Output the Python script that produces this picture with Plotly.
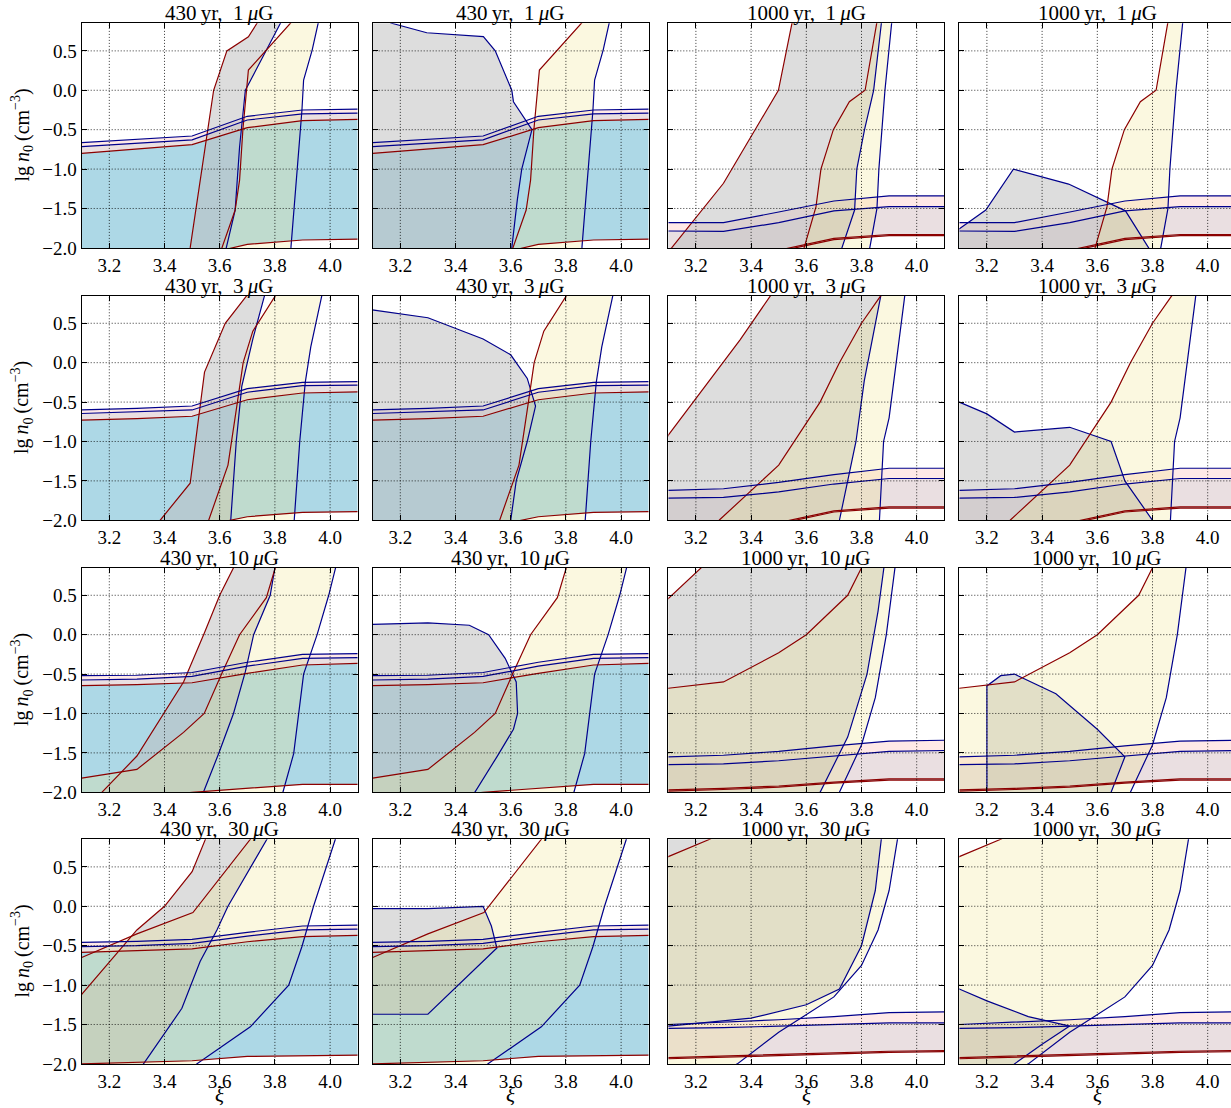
import plotly.graph_objects as go
from plotly.subplots import make_subplots

# ---------------- data ----------------
X_RANGE = [3.1, 4.1]
Y_RANGE = [-2.0, 0.85]
X_TICKS = [3.2, 3.4, 3.6, 3.8, 4.0]
Y_TICKS = [-2.0, -1.5, -1.0, -0.5, 0.0, 0.5]
COL_AGES = ["430", "430", "1000", "1000"]
ROW_FIELDS = ["1", "3", "10", "30"]

# horizontal bands (y as function of xi on HX grid)
HX = [3.1, 3.3, 3.5, 3.7, 3.9, 4.1]
H430_B1_BLUE_UP = [-0.665, -0.62, -0.58, -0.33, -0.25, -0.24]
H430_B1_BLUE_LO = [-0.716, -0.675, -0.63, -0.377, -0.30, -0.29]
H430_B1_RED_UP = [-0.80, -0.745, -0.69, -0.475, -0.386, -0.37]
H430_B1_RED_LO = [-2.35, -2.25, -2.12, -1.955, -1.90, -1.89]
H430_B3_BLUE_UP = [-0.60, -0.58, -0.55, -0.33, -0.25, -0.24]
H430_B3_BLUE_LO = [-0.645, -0.625, -0.60, -0.375, -0.29, -0.285]
H430_B3_RED_UP = [-0.73, -0.71, -0.68, -0.47, -0.385, -0.37]
H430_B3_RED_LO = [-2.35, -2.22, -2.1, -1.955, -1.90, -1.89]
H430_B10_BLUE_UP = [-0.52, -0.515, -0.48, -0.35, -0.25, -0.24]
H430_B10_BLUE_LO = [-0.575, -0.565, -0.53, -0.40, -0.30, -0.29]
H430_B10_RED_UP = [-0.647, -0.635, -0.61, -0.49, -0.385, -0.365]
H430_B10_RED_LO = [-2.15, -2.08, -2.0, -1.95, -1.90, -1.90]
H430_B30_BLUE_UP = [-0.457, -0.445, -0.42, -0.33, -0.25, -0.24]
H430_B30_BLUE_LO = [-0.513, -0.50, -0.47, -0.38, -0.30, -0.29]
H430_B30_RED_UP = [-0.584, -0.565, -0.54, -0.45, -0.386, -0.37]
H430_B30_RED_LO = [-2.0, -1.98, -1.96, -1.905, -1.90, -1.89]
H1000_B1_BLUE_UP = [-1.68, -1.68, -1.545, -1.405, -1.34, -1.34]
H1000_B1_BLUE_LO = [-1.786, -1.79, -1.68, -1.53, -1.477, -1.477]
H1000_B1_RED_UP = [-2.3, -2.15, -2.03, -1.88, -1.83, -1.83]
H1000_B1_RED_LO = [-2.315, -2.165, -2.045, -1.895, -1.845, -1.845]
H1000_B3_BLUE_UP = [-1.62, -1.60, -1.52, -1.42, -1.34, -1.34]
H1000_B3_BLUE_LO = [-1.72, -1.71, -1.64, -1.54, -1.47, -1.47]
H1000_B3_RED_UP = [-2.3, -2.15, -2.03, -1.88, -1.83, -1.83]
H1000_B3_RED_LO = [-2.315, -2.165, -2.045, -1.895, -1.845, -1.845]
H1000_B10_BLUE_UP = [-1.55, -1.53, -1.48, -1.41, -1.35, -1.34]
H1000_B10_BLUE_LO = [-1.65, -1.64, -1.60, -1.54, -1.48, -1.47]
H1000_B10_RED_UP = [-1.97, -1.95, -1.92, -1.87, -1.83, -1.83]
H1000_B10_RED_LO = [-1.985, -1.965, -1.935, -1.885, -1.845, -1.845]
H1000_B30_BLUE_UP = [-1.50, -1.47, -1.44, -1.40, -1.35, -1.34]
H1000_B30_BLUE_LO = [-1.55, -1.54, -1.52, -1.50, -1.48, -1.48]
H1000_B30_RED_UP = [-1.92, -1.90, -1.88, -1.86, -1.84, -1.83]
H1000_B30_RED_LO = [-1.935, -1.915, -1.895, -1.875, -1.855, -1.845]

# khaki band (shared by both columns of the same age), (xi, lg n0) vertices
V2_430_B1_RED = [(3.60, -2.1), (3.608, -2.0), (3.656, -1.52), (3.672, -1.14), (3.684, -0.5), (3.704, 0.257), (3.856, 0.85), (3.88, 0.95)]
V2_430_B1_BLUE = [(3.855, -2.1), (3.858, -2.0), (3.898, -0.25), (3.904, 0.13), (3.935, 0.51), (3.958, 0.85), (3.963, 0.95)]
V2_430_B3_RED = [(3.55, -2.1), (3.56, -2.0), (3.63, -1.3), (3.66, -0.6), (3.685, 0.0), (3.72, 0.4), (3.80, 0.85), (3.82, 0.95)]
V2_430_B3_BLUE = [(3.86, -2.1), (3.87, -2.0), (3.89, -1.0), (3.91, -0.25), (3.93, 0.2), (3.97, 0.85), (3.98, 0.95)]
V2_430_B10_RED = [(2.9, -2.2), (3.0, -1.9), (3.10, -1.82), (3.30, -1.71), (3.469, -1.24), (3.544, -1.0), (3.608, -0.49), (3.672, 0.0), (3.769, 0.47), (3.80, 0.85), (3.81, 0.95)]
V2_430_B10_BLUE = [(3.82, -2.1), (3.829, -2.0), (3.868, -1.51), (3.904, -0.5), (3.953, 0.0), (3.995, 0.5), (4.02, 0.85), (4.025, 0.95)]
V2_430_B30_RED = [(2.9, -2.2), (3.0, -0.75), (3.1, -0.65), (3.3, -0.35), (3.503, -0.08), (3.711, 0.85), (3.72, 0.95)]
V2_430_B30_BLUE = [(3.50, -2.1), (3.517, -2.0), (3.711, -1.53), (3.85, -1.0), (3.898, -0.51), (3.94, 0.0), (4.019, 0.85), (4.03, 0.95)]
V2_1000_B1_RED = [(3.585, -2.1), (3.592, -2.0), (3.635, -1.48), (3.653, -1.0), (3.698, -0.5), (3.756, -0.145), (3.813, 0.0), (3.853, 0.85), (3.86, 0.95)]
V2_1000_B1_BLUE = [(3.815, -2.1), (3.83, -2.0), (3.856, -1.5), (3.863, -1.0), (3.885, 0.0), (3.908, 0.85), (3.912, 0.95)]
V2_1000_B3_RED = [(3.25, -2.1), (3.284, -2.0), (3.5, -1.3), (3.65, -0.5), (3.72, 0.0), (3.80, 0.5), (3.87, 0.85), (3.88, 0.95)]
V2_1000_B3_BLUE = [(3.86, -2.1), (3.865, -2.0), (3.88, -1.0), (3.90, -0.7), (3.955, 0.8), (3.96, 0.95)]
V2_1000_B10_RED = [(2.9, -2.2), (3.0, -0.75), (3.1, -0.68), (3.3, -0.6), (3.5, -0.23), (3.6, 0.0), (3.75, 0.5), (3.80, 0.85), (3.82, 0.95)]
V2_1000_B10_BLUE = [(3.70, -2.1), (3.72, -2.0), (3.80, -1.4), (3.85, -0.8), (3.89, 0.0), (3.92, 0.85), (3.925, 0.95)]
V2_1000_B30_RED = [(2.9, -2.2), (3.0, 0.4), (3.1, 0.63), (3.25, 0.85), (3.3, 0.95)]
V2_1000_B30_BLUE = [(3.30, -2.1), (3.35, -2.0), (3.5, -1.6), (3.7, -1.15), (3.8, -0.75), (3.86, -0.3), (3.9, 0.2), (3.93, 0.85), (3.935, 0.95)]

# grey band, one per panel (row, col)
V1_R1C1_RED = [(3.488, -2.1), (3.493, -2.0), (3.578, 0.0), (3.626, 0.5), (3.704, 0.68), (3.735, 0.85), (3.74, 0.95)]
V1_R1C1_BLUE = [(3.617, -2.1), (3.624, -2.0), (3.656, -1.52), (3.672, -0.72), (3.693, 0.0), (3.82, 0.85), (3.835, 0.95)]
V1_R1C2_RED = [(3.0, -2.2), (3.0, 1.0)]
V1_R1C2_BLUE = [(3.598, -2.1), (3.604, -2.0), (3.624, -1.39), (3.64, -1.0), (3.677, -0.5), (3.61, -0.145), (3.604, 0.0), (3.544, 0.5), (3.501, 0.68), (3.296, 0.73), (3.169, 0.85), (3.15, 0.88)]
V1_R1C3_RED = [(3.08, -2.1), (3.112, -2.0), (3.30, -1.18), (3.499, 0.0), (3.548, 0.85), (3.554, 0.95)]
V1_R1C3_BLUE = [(3.72, -2.1), (3.729, -2.0), (3.775, -1.52), (3.783, -1.0), (3.811, -0.5), (3.844, 0.0), (3.872, 0.85), (3.876, 0.95)]
V1_R1C4_RED = [(3.0, -2.3), (3.9, -2.3)]
V1_R1C4_BLUE = [(3.0, -1.99), (3.103, -1.75), (3.196, -1.52), (3.296, -1.0), (3.496, -1.19), (3.702, -1.53), (3.786, -2.0), (3.82, -2.2)]
V1_R2C1_RED = [(3.37, -2.1), (3.384, -2.0), (3.493, -1.53), (3.545, -0.12), (3.62, 0.5), (3.70, 0.85), (3.72, 0.95)]
V1_R2C1_BLUE = [(3.63, -2.1), (3.64, -2.0), (3.66, -1.0), (3.68, -0.3), (3.72, 0.3), (3.76, 0.85), (3.77, 0.95)]
V1_R2C2_RED = [(3.0, -2.2), (3.0, 1.0)]
V1_R2C2_BLUE = [(3.59, -2.1), (3.60, -2.0), (3.62, -1.5), (3.66, -1.0), (3.69, -0.55), (3.66, -0.2), (3.6, 0.1), (3.5, 0.3), (3.3, 0.57), (3.1, 0.68), (3.0, 0.72)]
V1_R2C3_RED = [(2.9, -2.2), (3.1, -0.92), (3.36, 0.29), (3.47, 0.85), (3.49, 0.95)]
V1_R2C3_BLUE = [(3.71, -2.1), (3.72, -2.0), (3.78, -1.0), (3.81, -0.23), (3.87, 0.85), (3.875, 0.95)]
V1_R2C4_RED = [(3.0, -2.3), (3.9, -2.3)]
V1_R2C4_BLUE = [(3.0, -0.45), (3.1, -0.5), (3.2, -0.65), (3.3, -0.88), (3.5, -0.82), (3.65, -1.0), (3.7, -1.5), (3.8, -2.0), (3.85, -2.2)]
V1_R3C1_RED = [(3.15, -2.1), (3.173, -2.0), (3.30, -1.54), (3.396, -1.0), (3.469, -0.6), (3.544, 0.017), (3.60, 0.5), (3.65, 0.85), (3.66, 0.95)]
V1_R3C1_BLUE = [(3.535, -2.1), (3.541, -2.0), (3.596, -1.51), (3.65, -1.0), (3.693, -0.47), (3.723, 0.0), (3.783, 0.5), (3.80, 0.85), (3.805, 0.95)]
V1_R3C2_RED = [(3.0, -2.2), (3.0, 1.0)]
V1_R3C2_BLUE = [(3.44, -2.1), (3.47, -2.0), (3.55, -1.55), (3.61, -1.2), (3.625, -1.0), (3.62, -0.6), (3.58, -0.3), (3.52, 0.0), (3.45, 0.12), (3.3, 0.15), (3.1, 0.13), (3.0, 0.12)]
V1_R3C3_RED = [(2.9, -2.2), (3.0, 0.2), (3.1, 0.46), (3.22, 0.85), (3.25, 0.95)]
V1_R3C3_BLUE = [(3.62, -2.1), (3.65, -2.0), (3.75, -1.3), (3.82, -0.5), (3.86, 0.3), (3.88, 0.85), (3.885, 0.95)]
V1_R3C4_RED = [(3.0, -2.3), (3.9, -2.3)]
V1_R3C4_BLUE = [(3.2, -2.2), (3.2, -0.65), (3.25, -0.52), (3.3, -0.5), (3.45, -0.75), (3.6, -1.2), (3.7, -1.55), (3.65, -2.0), (3.62, -2.2)]
V1_R4C1_RED = [(2.9, -2.2), (3.1, -1.117), (3.3, -0.3), (3.4, 0.0), (3.5, 0.44), (3.551, 0.85), (3.56, 0.95)]
V1_R4C1_BLUE = [(3.31, -2.1), (3.324, -2.0), (3.463, -1.295), (3.529, -0.70), (3.59, -0.30), (3.63, 0.0), (3.771, 0.85), (3.78, 0.95)]
V1_R4C2_RED = []
V1_R4C2_BLUE = [(3.0, -0.03), (3.3, -0.03), (3.5, 0.0), (3.53, -0.25), (3.55, -0.53), (3.3, -1.37), (3.0, -1.37)]
V1_R4C3_RED = [(3.0, -1.6), (3.0, 1.0)]
V1_R4C3_BLUE = [(3.0, -1.55), (3.1, -1.52), (3.4, -1.42), (3.6, -1.25), (3.72, -1.05), (3.8, -0.5), (3.85, 0.2), (3.87, 0.85), (3.875, 0.95)]
V1_R4C4_RED = [(3.0, -2.3), (3.9, -2.3)]
V1_R4C4_BLUE = [(3.0, -1.0), (3.1, -1.05), (3.2, -1.2), (3.35, -1.4), (3.5, -1.52), (3.4, -1.75), (3.3, -2.0), (3.25, -2.2)]

# --------------- tables built from the arrays ---------------
HBANDS = {
    ("430", "1"): (H430_B1_BLUE_UP, H430_B1_BLUE_LO, H430_B1_RED_UP, H430_B1_RED_LO),
    ("430", "3"): (H430_B3_BLUE_UP, H430_B3_BLUE_LO, H430_B3_RED_UP, H430_B3_RED_LO),
    ("430", "10"): (H430_B10_BLUE_UP, H430_B10_BLUE_LO, H430_B10_RED_UP, H430_B10_RED_LO),
    ("430", "30"): (H430_B30_BLUE_UP, H430_B30_BLUE_LO, H430_B30_RED_UP, H430_B30_RED_LO),
    ("1000", "1"): (H1000_B1_BLUE_UP, H1000_B1_BLUE_LO, H1000_B1_RED_UP, H1000_B1_RED_LO),
    ("1000", "3"): (H1000_B3_BLUE_UP, H1000_B3_BLUE_LO, H1000_B3_RED_UP, H1000_B3_RED_LO),
    ("1000", "10"): (H1000_B10_BLUE_UP, H1000_B10_BLUE_LO, H1000_B10_RED_UP, H1000_B10_RED_LO),
    ("1000", "30"): (H1000_B30_BLUE_UP, H1000_B30_BLUE_LO, H1000_B30_RED_UP, H1000_B30_RED_LO),
}
V2 = {
    ("430", "1"): (V2_430_B1_RED, V2_430_B1_BLUE),
    ("430", "3"): (V2_430_B3_RED, V2_430_B3_BLUE),
    ("430", "10"): (V2_430_B10_RED, V2_430_B10_BLUE),
    ("430", "30"): (V2_430_B30_RED, V2_430_B30_BLUE),
    ("1000", "1"): (V2_1000_B1_RED, V2_1000_B1_BLUE),
    ("1000", "3"): (V2_1000_B3_RED, V2_1000_B3_BLUE),
    ("1000", "10"): (V2_1000_B10_RED, V2_1000_B10_BLUE),
    ("1000", "30"): (V2_1000_B30_RED, V2_1000_B30_BLUE),
}
V1 = {
    (1, 1): (V1_R1C1_RED, V1_R1C1_BLUE), (1, 2): (V1_R1C2_RED, V1_R1C2_BLUE),
    (1, 3): (V1_R1C3_RED, V1_R1C3_BLUE), (1, 4): (V1_R1C4_RED, V1_R1C4_BLUE),
    (2, 1): (V1_R2C1_RED, V1_R2C1_BLUE), (2, 2): (V1_R2C2_RED, V1_R2C2_BLUE),
    (2, 3): (V1_R2C3_RED, V1_R2C3_BLUE), (2, 4): (V1_R2C4_RED, V1_R2C4_BLUE),
    (3, 1): (V1_R3C1_RED, V1_R3C1_BLUE), (3, 2): (V1_R3C2_RED, V1_R3C2_BLUE),
    (3, 3): (V1_R3C3_RED, V1_R3C3_BLUE), (3, 4): (V1_R3C4_RED, V1_R3C4_BLUE),
    (4, 1): (V1_R4C1_RED, V1_R4C1_BLUE), (4, 2): (V1_R4C2_RED, V1_R4C2_BLUE),
    (4, 3): (V1_R4C3_RED, V1_R4C3_BLUE), (4, 4): (V1_R4C4_RED, V1_R4C4_BLUE),
}

# --------------- style ---------------
RED = "rgb(140,0,0)"
BLUE = "rgb(0,0,140)"
LW = 1.2
C_LIGHTBLUE = "rgb(173,216,230)"
C_PINK = "rgba(255,226,223,0.75)"
C_GREY = "rgba(190,190,190,0.52)"
C_KHAKI = "rgba(240,230,140,0.27)"
FONT = "Liberation Serif"

W, H = 1231, 1108
COL_LEFT = [81.7, 372.7, 668.3, 959.3]
ROW_TOP = [23.3, 295.7, 567.7, 839.3]
PX_X = 276.0   # pixels per unit of xi
PX_Y = 78.8    # pixels per unit of lg n0

fig = make_subplots(rows=4, cols=4)


def poly_trace(xs, ys, color, r, c):
    fig.add_trace(go.Scatter(x=xs, y=ys, mode="lines", fill="toself", fillcolor=color,
                             line=dict(width=0), hoverinfo="skip", showlegend=False), row=r, col=c)


def line_trace(xs, ys, color, r, c):
    fig.add_trace(go.Scatter(x=xs, y=ys, mode="lines", line=dict(color=color, width=LW),
                             hoverinfo="skip", showlegend=False), row=r, col=c)


for ri, field in enumerate(ROW_FIELDS):
    for ci, age in enumerate(COL_AGES):
        r, c = ri + 1, ci + 1
        bu, bl, ru, rl = HBANDS[(age, field)]
        poly_trace(HX + HX[::-1], bl + rl[::-1], C_LIGHTBLUE, r, c)
        poly_trace(HX + HX[::-1], bu + ru[::-1], C_PINK, r, c)
        gred, gblue = V1[(r, c)]
        pts = list(gred) + list(gblue)[::-1]
        poly_trace([p[0] for p in pts], [p[1] for p in pts], C_GREY, r, c)
        kred, kblue = V2[(age, field)]
        pts = list(kred) + list(kblue)[::-1]
        poly_trace([p[0] for p in pts], [p[1] for p in pts], C_KHAKI, r, c)
        for curve, col in ((gred, RED), (gblue, BLUE), (kred, RED), (kblue, BLUE)):
            if curve:
                line_trace([p[0] for p in curve], [p[1] for p in curve], col, r, c)
        line_trace(HX, rl, RED, r, c)
        line_trace(HX, ru, RED, r, c)
        line_trace(HX, bl, BLUE, r, c)
        line_trace(HX, bu, BLUE, r, c)

annotations = []
shapes = []
for ri, field in enumerate(ROW_FIELDS):
    for ci, age in enumerate(COL_AGES):
        r, c = ri + 1, ci + 1
        left = COL_LEFT[ci]
        right = min(left + PX_X * (X_RANGE[1] - X_RANGE[0]), W)
        xmax = X_RANGE[0] + (right - left) / PX_X
        top = ROW_TOP[ri]
        bottom = top + PX_Y * (Y_RANGE[1] - Y_RANGE[0])
        fig.update_xaxes(domain=[left / W, right / W], range=[X_RANGE[0], xmax], automargin=False,
                         tickvals=X_TICKS, ticktext=["%.1f" % v for v in X_TICKS],
                         ticks="inside", ticklen=5, tickwidth=1, tickcolor="black",
                         showline=True, linecolor="black", linewidth=1.2, mirror="ticks",
                         showgrid=False, zeroline=False, layer="above traces",
                         tickfont=dict(family=FONT, size=19, color="black"),
                         row=r, col=c)
        fig.update_yaxes(domain=[1 - bottom / H, 1 - top / H], range=Y_RANGE, automargin=False,
                         tickvals=Y_TICKS, ticktext=[("%.1f" % v).replace("-", "\u2212") for v in Y_TICKS],
                         showticklabels=(ci == 0),
                         ticks="inside", ticklen=5, tickwidth=1, tickcolor="black",
                         showline=True, linecolor="black", linewidth=1.2,
                         mirror=("ticks" if ci < 3 else False),
                         showgrid=False, zeroline=False, layer="above traces",
                         tickfont=dict(family=FONT, size=19, color="black"),
                         row=r, col=c)
        idx = ri * 4 + ci + 1
        xa = "x" if idx == 1 else "x%d" % idx
        ya = "y" if idx == 1 else "y%d" % idx
        for xv in X_TICKS:
            shapes.append(dict(type="line", xref=xa, yref=ya + " domain", x0=xv, x1=xv, y0=0, y1=1,
                               line=dict(color="black", width=0.8, dash="1px,2px"), layer="above"))
        for yv in Y_TICKS[1:]:
            shapes.append(dict(type="line", xref=xa + " domain", yref=ya, x0=0, x1=1, y0=yv, y1=yv,
                               line=dict(color="black", width=0.8, dash="1px,2px"), layer="above"))
        annotations.append(dict(text="%s\u2009yr,  %s\u2009<i>\u03bc</i>G" % (age, field),
                                xref="paper", yref="paper",
                                x=(left + PX_X * (X_RANGE[1] - X_RANGE[0]) / 2) / W, y=1 - top / H,
                                xanchor="center", yanchor="bottom", yshift=-4, showarrow=False,
                                font=dict(family=FONT, size=21, color="black")))
        if ci == 0:
            annotations.append(dict(text="lg\u2009<i>n</i><sub>0</sub>\u2009(cm<sup>\u22123</sup>)",
                                    xref="paper", yref="paper", x=22 / W, y=1 - (top + bottom) / 2 / H,
                                    xanchor="center", yanchor="middle", textangle=-90, showarrow=False,
                                    font=dict(family=FONT, size=20, color="black")))
        if ri == 3:
            annotations.append(dict(text="<i>\u03be</i>", xref="paper", yref="paper",
                                    x=(left + PX_X * (X_RANGE[1] - X_RANGE[0]) / 2) / W, y=0,
                                    xanchor="center", yanchor="bottom", yshift=-1, showarrow=False,
                                    font=dict(family=FONT, size=21, color="black")))

fig.update_layout(width=W, height=H, margin=dict(l=0, r=0, t=0, b=0, autoexpand=False),
                  paper_bgcolor="white", plot_bgcolor="white", showlegend=False,
                  annotations=annotations, shapes=shapes)
fig.write_html("out.html", config={"displayModeBar": False},
               post_script="document.body.style.margin='0px';document.body.style.overflow='hidden';")
